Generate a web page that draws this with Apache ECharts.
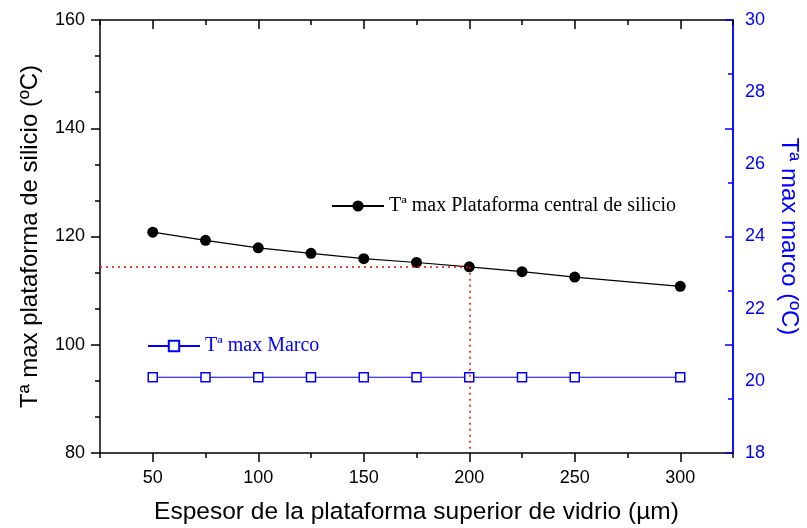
<!DOCTYPE html>
<html>
<head>
<meta charset="utf-8">
<script src="https://cdn.jsdelivr.net/npm/echarts@6/dist/echarts.min.js"></script>
<style>html,body{margin:0;padding:0;background:#fff}#c{width:807px;height:528px}</style>
</head>
<body>
<div id="c"></div>
<script>
// ---- data ----
var thickness = [50, 75, 100, 125, 150, 175, 200, 225, 250, 300];
var tSilicio = [120.8, 119.3, 117.9, 116.9, 115.9, 115.2, 114.4, 113.5, 112.5, 110.8];
var tMarco = [20.1, 20.1, 20.1, 20.1, 20.1, 20.1, 20.1, 20.1, 20.1, 20.1];
var xLabelTicks = [50, 100, 150, 200, 250, 300];
var xMinorTicks = [25, 75, 125, 175, 225, 275, 325];
var markX = 200;
var markY = tSilicio[thickness.indexOf(markX)];
var nameSi = 'Tª max Plataforma central de silicio';
var nameMarco = 'Tª max Marco';

var BLUE = '#0000FF';
var SANS = 'Liberation Sans, Arial, sans-serif';
var SERIF = 'Liberation Serif, Times New Roman, serif';

var chart = echarts.init(document.getElementById('c'), null, {renderer: 'canvas'});
var xBase = {type: 'value', min: 25, max: 325, splitLine: {show: false}};
function mk(o) { return Object.assign({}, xBase, o); }

chart.setOption({
  animation: false,
  backgroundColor: '#fff',
  grid: {left: 100, right: 74, top: 20, bottom: 75, containLabel: false, outerBoundsMode: 'none'},
  legend: [
    {data: [nameSi], left: 326, top: 191, itemWidth: 52, itemHeight: 14,
     textStyle: {fontFamily: SERIF, fontSize: 20, color: '#000'}},
    {data: [nameMarco], left: 142, top: 331, itemWidth: 52, itemHeight: 13,
     textStyle: {fontFamily: SERIF, fontSize: 20, color: BLUE}}
  ],
  xAxis: [
    mk({position: 'bottom', name: 'Espesor de la plataforma superior de vidrio (µm)',
        nameLocation: 'middle', nameGap: 47,
        nameTextStyle: {fontFamily: SANS, fontSize: 24.5, color: '#000'},
        axisLine: {lineStyle: {color: '#000', width: 1.5}},
        axisTick: {inside: false, length: 9, customValues: xLabelTicks, lineStyle: {width: 1.5}},
        axisLabel: {customValues: xLabelTicks, margin: 16, fontFamily: SANS, fontSize: 18, color: '#000'}}),
    mk({position: 'bottom', axisLine: {show: false},
        axisTick: {inside: false, length: 5, customValues: xMinorTicks, lineStyle: {color: '#000', width: 1.5}},
        axisLabel: {show: false}}),
    mk({position: 'top', axisLine: {lineStyle: {color: '#000', width: 1.5}},
        axisTick: {inside: true, length: 9, customValues: xLabelTicks, lineStyle: {width: 1.5}},
        axisLabel: {show: false}}),
    mk({position: 'top', axisLine: {show: false},
        axisTick: {inside: true, length: 5, customValues: xMinorTicks, lineStyle: {color: '#000', width: 1.5}},
        axisLabel: {show: false}})
  ],
  yAxis: [
    {type: 'value', position: 'left', min: 80, max: 160, interval: 20,
     name: 'Tª max plataforma de silicio (ºC)', nameLocation: 'middle', nameGap: 58,
     nameTextStyle: {fontFamily: SANS, fontSize: 24, color: '#000'},
     axisLine: {show: true, lineStyle: {color: '#000', width: 1.5}},
     axisTick: {show: true, inside: false, length: 9, lineStyle: {width: 1.5}},
     minorTick: {show: true, splitNumber: 3, length: 5, lineStyle: {color: '#000', width: 1.5}},
     axisLabel: {margin: 15, fontFamily: SANS, fontSize: 18, color: '#000'},
     splitLine: {show: false}},
    {type: 'value', position: 'right', min: 18, max: 30, interval: 2,
     name: 'Tª max marco (ºC)', nameLocation: 'middle', nameGap: 44, nameRotate: -90,
     nameTextStyle: {fontFamily: SANS, fontSize: 24, color: BLUE},
     axisLine: {show: true, lineStyle: {color: BLUE, width: 1.5}},
     axisTick: {show: false},
     axisLabel: {margin: 12, fontFamily: SANS, fontSize: 18, color: BLUE},
     splitLine: {show: false}},
    {type: 'value', position: 'right', min: 80, max: 160, interval: 20,
     axisLine: {show: true, lineStyle: {color: BLUE, width: 1.5}},
     axisTick: {show: true, inside: true, length: 8, lineStyle: {color: BLUE, width: 1.5}},
     minorTick: {show: true, splitNumber: 2, length: 5, lineStyle: {color: BLUE, width: 1.5}},
     axisLabel: {show: false},
     splitLine: {show: false}}
  ],
  series: [
    {name: nameSi, type: 'line', xAxisIndex: 0, yAxisIndex: 0,
     data: thickness.map(function (x, i) { return [x, tSilicio[i]]; }),
     symbol: 'circle', symbolSize: 11, showAllSymbol: true,
     lineStyle: {color: '#000', width: 1.2},
     itemStyle: {color: '#000'},
     markLine: {silent: true, symbol: 'none', label: {show: false},
       lineStyle: {color: '#FF0000', type: [2, 4], width: 1.5},
       data: [
         [{coord: [25, markY]}, {coord: [markX, markY]}],
         [{coord: [markX, markY]}, {coord: [markX, 80]}]
       ]}},
    {name: nameMarco, type: 'line', xAxisIndex: 0, yAxisIndex: 1,
     data: thickness.map(function (x, i) { return [x, tMarco[i]]; }),
     symbol: 'rect', symbolSize: 9, showAllSymbol: true,
     lineStyle: {color: BLUE, width: 1.2},
     itemStyle: {color: '#fff', borderColor: BLUE, borderWidth: 1.5}}
  ]
});
</script>
</body>
</html>
